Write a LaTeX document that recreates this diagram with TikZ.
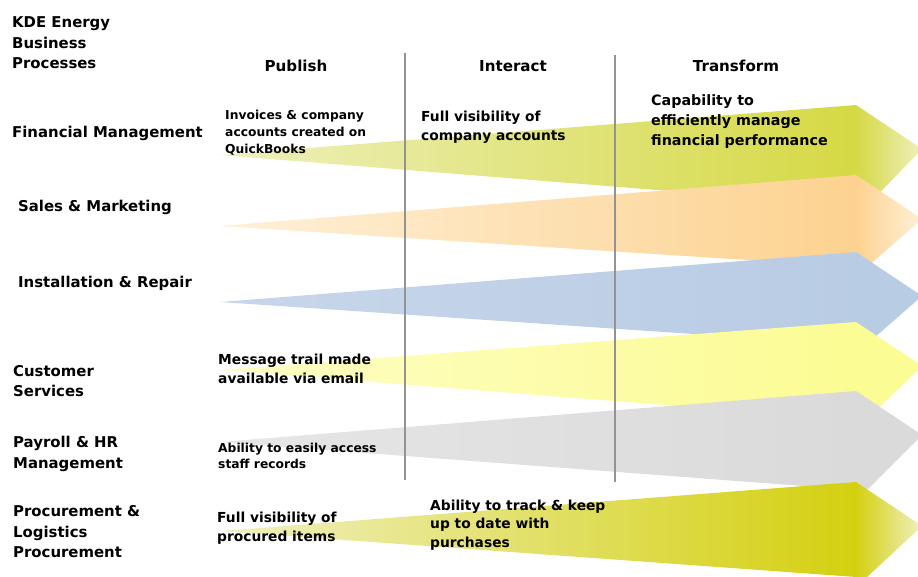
\documentclass[tikz,border=0pt]{standalone}
\usepackage{fontspec}
\setmainfont{DejaVu Sans}

\definecolor{olivea}{HTML}{EEF0BC}
\definecolor{oliveb}{HTML}{D5D944}
\definecolor{peacha}{HTML}{FEF0D8}
\definecolor{peachb}{HTML}{FDD290}
\definecolor{steel}{HTML}{B8CCE4}
\definecolor{steela}{HTML}{C8D6EA}
\definecolor{lemona}{HTML}{FDFDC4}
\definecolor{lemonb}{HTML}{FCFC94}
\definecolor{greya}{HTML}{E6E6E6}
\definecolor{greyb}{HTML}{DADADA}
\definecolor{mustarda}{HTML}{F0F0C0}
\definecolor{mustardb}{HTML}{D4D010}

\begin{document}
\begin{tikzpicture}[
        x = 1pt,
        y = -1pt,
        rowlabel/.style = {
            anchor = west,
            align = left,
            inner sep = 0pt,
            font = \bfseries\fontsize{14.9}{20.5}\selectfont
        },
        colhead/.style = {
            anchor = center,
            inner sep = 0pt,
            font = \bfseries\fontsize{15.1}{18}\selectfont
        },
        cell/.style = {
            anchor = west,
            align = left,
            inner sep = 0pt,
            font = \bfseries\fontsize{13.8}{18.5}\selectfont
        },
        smallcell/.style = {
            cell,
            font = \bfseries\fontsize{12.3}{16.8}\selectfont
        },
        sep/.style = {
            draw = gray!85,
            line width = 1.3pt
        },
        body/.style 2 args = {left color=#1, right color=#2},
        head/.style 2 args = {left color=#1, right color=#2}
    ]
    \path[use as bounding box] (0,0) rectangle (918,577);

    % process arrows
    \begin{scope}
    \clip (0,0) rectangle (918,577);
    \shade[body={olivea}{oliveb}] (220,155) -- (856,105) -- (856,206) -- cycle;
    \shade[head={oliveb}{olivea}] (856,105) -- (922,149) -- (866,207) -- (856,206) -- cycle;
    \shade[body={peacha}{peachb}] (220,226) -- (856,175) -- (856,267) -- cycle;
    \shade[head={peachb}{peacha}] (856,175) -- (922,219) -- (866,268) -- (856,267) -- cycle;
    \shade[body={steela}{steel}] (220,302) -- (856,252) -- (856,345) -- cycle;
    \fill[steel] (856,252) -- (922,296) -- (866,345) -- (856,345) -- cycle;
    \shade[body={lemona}{lemonb}] (220,370) -- (856,322) -- (856,420) -- cycle;
    \fill[lemonb] (856,322) -- (922,366) -- (866,420) -- (856,420) -- cycle;
    \shade[body={greya}{greyb}] (220,442) -- (856,391) -- (856,490) -- cycle;
    \fill[greyb] (856,391) -- (922,435) -- (866,491) -- (856,490) -- cycle;
    \shade[body={mustarda}{mustardb}] (220,531) -- (856,482) -- (856,577) -- cycle;
    \shade[head={mustardb}{mustarda}] (856,482) -- (922,526) -- (866,578) -- (856,577) -- cycle;
    \end{scope}

    % column separators
    \coordinate (sepA top) at (405,53);
    \coordinate (sepA bot) at (405,480);
    \coordinate (sepB top) at (615,55);
    \coordinate (sepB bot) at (615,482);
    \draw[sep] (sepA top) -- (sepA bot);
    \draw[sep] (sepB top) -- (sepB bot);

    % headings
    \node[rowlabel] (kde) at (12,43) {KDE Energy\\Business\\Processes};
    \node[colhead] (publish) at (296,66) {Publish};
    \node[colhead] (interact) at (513,66) {Interact};
    \node[colhead] (transform) at (736,66) {Transform};

    % processes
    \node[rowlabel] (finance) at (12,133) {Financial Management};
    \node[rowlabel] (sales) at (18,207) {Sales \& Marketing};
    \node[rowlabel] (install) at (18,283) {Installation \& Repair};
    \node[rowlabel] (customer) at (13,381) {Customer\\Services};
    \node[rowlabel] (payroll) at (13,454) {Payroll \& HR\\Management};
    \node[rowlabel] (procure) at (13,532) {Procurement \&\\Logistics\\Procurement};

    % cells
    \node[smallcell] (invoices) at (225,133) {Invoices \& company\\accounts created on\\QuickBooks};
    \node[cell] (accounts) at (421,127) {Full visibility of\\company accounts};
    \node[cell, font=\bfseries\fontsize{14.3}{20}\selectfont] (capability) at (651,122) {Capability to\\efficiently manage\\financial performance};
    \node[cell] (messages) at (218,369) {Message trail made\\available via email};
    \node[smallcell] (records) at (218,456) {Ability to easily access\\staff records};
    \node[cell] (procured) at (217,528) {Full visibility of\\procured items};
    \node[cell] (tracking) at (430,525) {Ability to track \& keep\\up to date with\\purchases};
\end{tikzpicture}
\end{document}
